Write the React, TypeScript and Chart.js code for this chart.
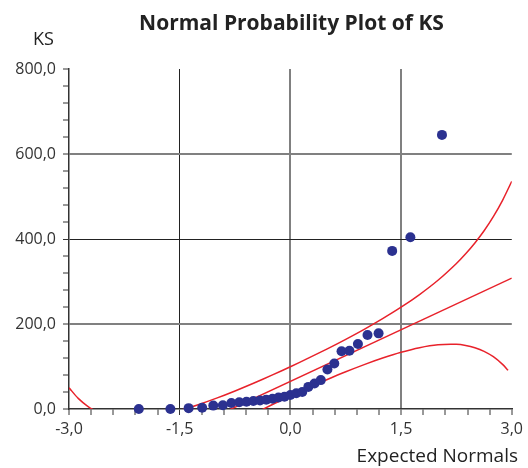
import React, { useEffect, useRef } from "react";
import { Chart, registerables } from "chart.js";

Chart.register(...registerables);

// Expected normal scores and observed KS values
const expectedNormals = [
  -2.054, -1.626, -1.379, -1.195, -1.045, -0.915, -0.8, -0.693, -0.595, -0.502,
  -0.412, -0.327, -0.243, -0.161, -0.08, 0, 0.08, 0.161, 0.243, 0.327, 0.412,
  0.502, 0.595, 0.693, 0.8, 0.915, 1.045, 1.195, 1.379, 1.626, 2.054,
];
const ksValues = [
  0, 0, 2, 3, 8, 9, 14, 16, 17, 19, 20, 22, 24, 27, 29, 33, 37, 40, 52, 60, 68,
  93, 107, 136, 137, 153, 174, 178, 372, 404, 645,
];

// Fitted line endpoints
const fitX = [-3, 3];
const fitY = [-178, 308];

// Confidence band curves
const upperX = [
  -3, -2.875, -2.75, -2.625, -2.5, -2.25, -2, -1.75, -1.5, -1.25, -1, -0.75,
  -0.5, -0.25, 0, 0.25, 0.5, 0.75, 1, 1.25, 1.5, 1.75, 2, 2.25, 2.375, 2.5,
  2.625, 2.75, 2.875, 3,
];
const upperY = [
  50, 25, 7, -6, -14, -22, -21, -14, -3.5, 10, 25.5, 42.5, 60.6, 79.6, 99.5,
  120.2, 141.6, 164, 187.5, 212.6, 239.5, 269.3, 302.9, 342.5, 365.3, 390.8,
  419.5, 452.6, 491, 535.8,
];
const lowerX = [
  -3, -2.75, -2.5, -2.25, -2, -1.75, -1.5, -1.25, -1, -0.75, -0.5, -0.25, 0,
  0.25, 0.5, 0.75, 1, 1.25, 1.5, 1.75, 2, 2.25, 2.375, 2.5, 2.625, 2.75, 2.875,
  2.95,
];
const lowerY = [
  -405.8, -322.6, -260.8, -212.5, -172.9, -139.3, -109.5, -82.6, -57.5, -33.9,
  -11.6, 9.9, 30.5, 50.4, 69.4, 87.6, 104.5, 119.9, 133.5, 144.3, 151.1, 152.1,
  149.5, 144.2, 135.7, 123, 105, 91,
];

const xMajorTicks = [-3, -1.5, 0, 1.5, 3];
const yMajorTicks = [0, 200, 400, 600, 800];

const titleText = "Normal Probability Plot of KS";
const yTitle = "KS";
const xTitle = "Expected Normals";

const FONT = "'Open Sans', Lato, sans-serif";
const RED = "#E8222B";
const BLUE = "#2B3190";

const fmt = (v: number) => v.toFixed(1).replace(".", ",");
const isMajor = (v: number, list: number[]) =>
  list.some((m) => Math.abs(m - v) < 1e-6);

const textPlugin = {
  id: "texts",
  afterDraw(chart: any) {
    const ctx = chart.ctx;
    ctx.save();
    ctx.fillStyle = "#222";
    ctx.textBaseline = "alphabetic";
    ctx.font = `bold 21px ${FONT}`;
    ctx.textAlign = "center";
    ctx.fillText(titleText, 291.5, 29.5);
    ctx.font = `18px ${FONT}`;
    ctx.textAlign = "left";
    ctx.fillText(yTitle, 33, 45);
    ctx.font = `19px ${FONT}`;
    ctx.textAlign = "right";
    ctx.fillText(xTitle, 518, 462);
    ctx.restore();
  },
};

export default function App() {
  const ref = useRef<HTMLCanvasElement | null>(null);
  useEffect(() => {
    if (!ref.current) return;
    const pts = expectedNormals.map((x, i) => ({ x, y: ksValues[i] }));
    const fit = fitX.map((x, i) => ({ x, y: fitY[i] }));
    const up = upperX.map((x, i) => ({ x, y: upperY[i] }));
    const lo = lowerX.map((x, i) => ({ x, y: lowerY[i] }));
    const gridColor = (major: number[], dark: number[], edge: number[]) => (c: any) => {
      const v = c.tick ? c.tick.value : NaN;
      if (!isMajor(v, major) || isMajor(v, edge)) return "rgba(0,0,0,0)";
      return isMajor(v, dark) ? "#222" : "#808080";
    };
    const gridWidth = (dark: number[]) => (c: any) => {
      const v = c.tick ? c.tick.value : NaN;
      return isMajor(v, dark) ? 1 : 2;
    };
    const chart = new Chart(ref.current, {
      type: "scatter",
      data: {
        datasets: [
          {
            data: pts,
            backgroundColor: BLUE,
            borderColor: BLUE,
            pointRadius: 5,
            pointBorderWidth: 0,
            clip: false as any,
          },
          {
            data: fit,
            showLine: true,
            borderColor: RED,
            borderWidth: 1.5,
            pointRadius: 0,
          },
          {
            data: up,
            showLine: true,
            borderColor: RED,
            borderWidth: 1.5,
            pointRadius: 0,
            tension: 0.3,
          },
          {
            data: lo,
            showLine: true,
            borderColor: RED,
            borderWidth: 1.5,
            pointRadius: 0,
            tension: 0.3,
          },
        ],
      },
      options: {
        responsive: false,
        animation: false,
        devicePixelRatio: 1,
        layout: { padding: { left: 0, top: 69, right: 14, bottom: 0 } },
        plugins: {
          legend: { display: false },
          tooltip: { enabled: false },
          title: { display: false },
        },
        scales: {
          x: {
            type: "linear",
            min: -3,
            max: 3,
            afterFit: (s: any) => {
              s.height = 59;
            },
            ticks: {
              stepSize: 0.3,
              autoSkip: false,
              maxRotation: 0,
              color: "#333",
              font: { family: FONT, size: 16 },
              padding: 5,
              callback: (v: any) => (isMajor(Number(v), xMajorTicks) ? fmt(Number(v)) : ""),
            },
            grid: {
              color: gridColor(xMajorTicks, [-1.5], [-3, 3]),
              lineWidth: gridWidth([-1.5]),
              tickColor: "#333",
              tickWidth: 1,
              tickLength: 6,
            },
            border: { display: true, color: "#333", width: 1.5 },
          },
          y: {
            type: "linear",
            min: 0,
            max: 800,
            afterFit: (s: any) => {
              s.width = 69;
            },
            ticks: {
              stepSize: 40,
              autoSkip: false,
              color: "#333",
              font: { family: FONT, size: 16 },
              padding: 7,
              callback: (v: any) => (isMajor(Number(v), yMajorTicks) ? fmt(Number(v)) : ""),
            },
            grid: {
              color: gridColor(yMajorTicks, [400], [0, 800]),
              lineWidth: gridWidth([400]),
              tickColor: "#333",
              tickWidth: 1,
              tickLength: 6,
            },
            border: { display: true, color: "#333", width: 1.5 },
          },
        },
      },
      plugins: [textPlugin],
    });
    return () => chart.destroy();
  }, []);
  return (
    <div style={{ position: "absolute", left: 0, top: 0, width: 528, height: 468, background: "#fff" }}>
      <canvas ref={ref} width={528} height={468} style={{ display: "block" }} />
    </div>
  );
}
